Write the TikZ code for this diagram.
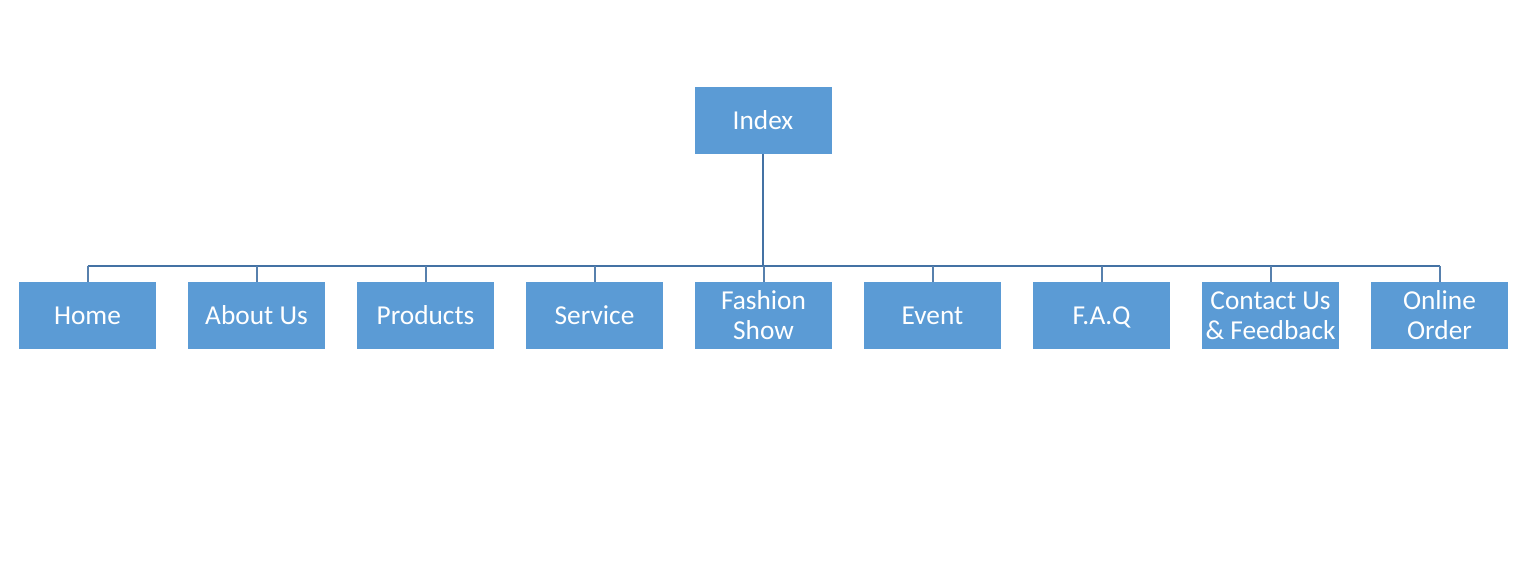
\documentclass[tikz,border=0pt]{standalone}
\usepackage{fontspec}
\setmainfont{Carlito}
\definecolor{boxblue}{HTML}{5B9BD5}
\definecolor{linkblue}{HTML}{4472A4}
\newcommand{\mystrut}{\rule[-4pt]{0pt}{21pt}}
\begin{document}
\begin{tikzpicture}[x=0.75pt,y=-0.75pt,
  box/.style={fill=boxblue,draw=none,minimum width=102.75pt,minimum height=50.25pt,inner sep=0pt,
    text=white,align=center,font=\fontsize{20.5}{22.5}\selectfont},
  link/.style={draw=linkblue,line width=1.5pt},
  tick/.style={draw=linkblue!90,line width=1.5pt}]
\useasboundingbox (0,0) rectangle (1517,583);
\node[box] (index) at (763,120.5) {Index\mystrut};
\foreach \n/\t [count=\i from 0] in {home/Home\mystrut,about/About Us\mystrut,products/Products\mystrut,service/Service\mystrut,fashion/{Fashion\mystrut\\Show\mystrut},event/Event\mystrut,faq/F.A.Q\mystrut,contact/{Contact Us\mystrut\\\& Feedback\mystrut},online/{Online\mystrut\\Order\mystrut}}{
  \node[box] (\n) at (87.5+169*\i,315.5) {\t};
}
\coordinate (bus) at (763,266);
\draw[link,line width=2pt] (index.south) -- (bus);
\draw[link] (home.north) ++(0,-16) -- ([yshift=12pt]online.north);
\foreach \n in {home,about,products,service,fashion,event,faq,contact,online}{
  \draw[tick] (\n.north) -- ++(0,-16);
}
\end{tikzpicture}
\end{document}
